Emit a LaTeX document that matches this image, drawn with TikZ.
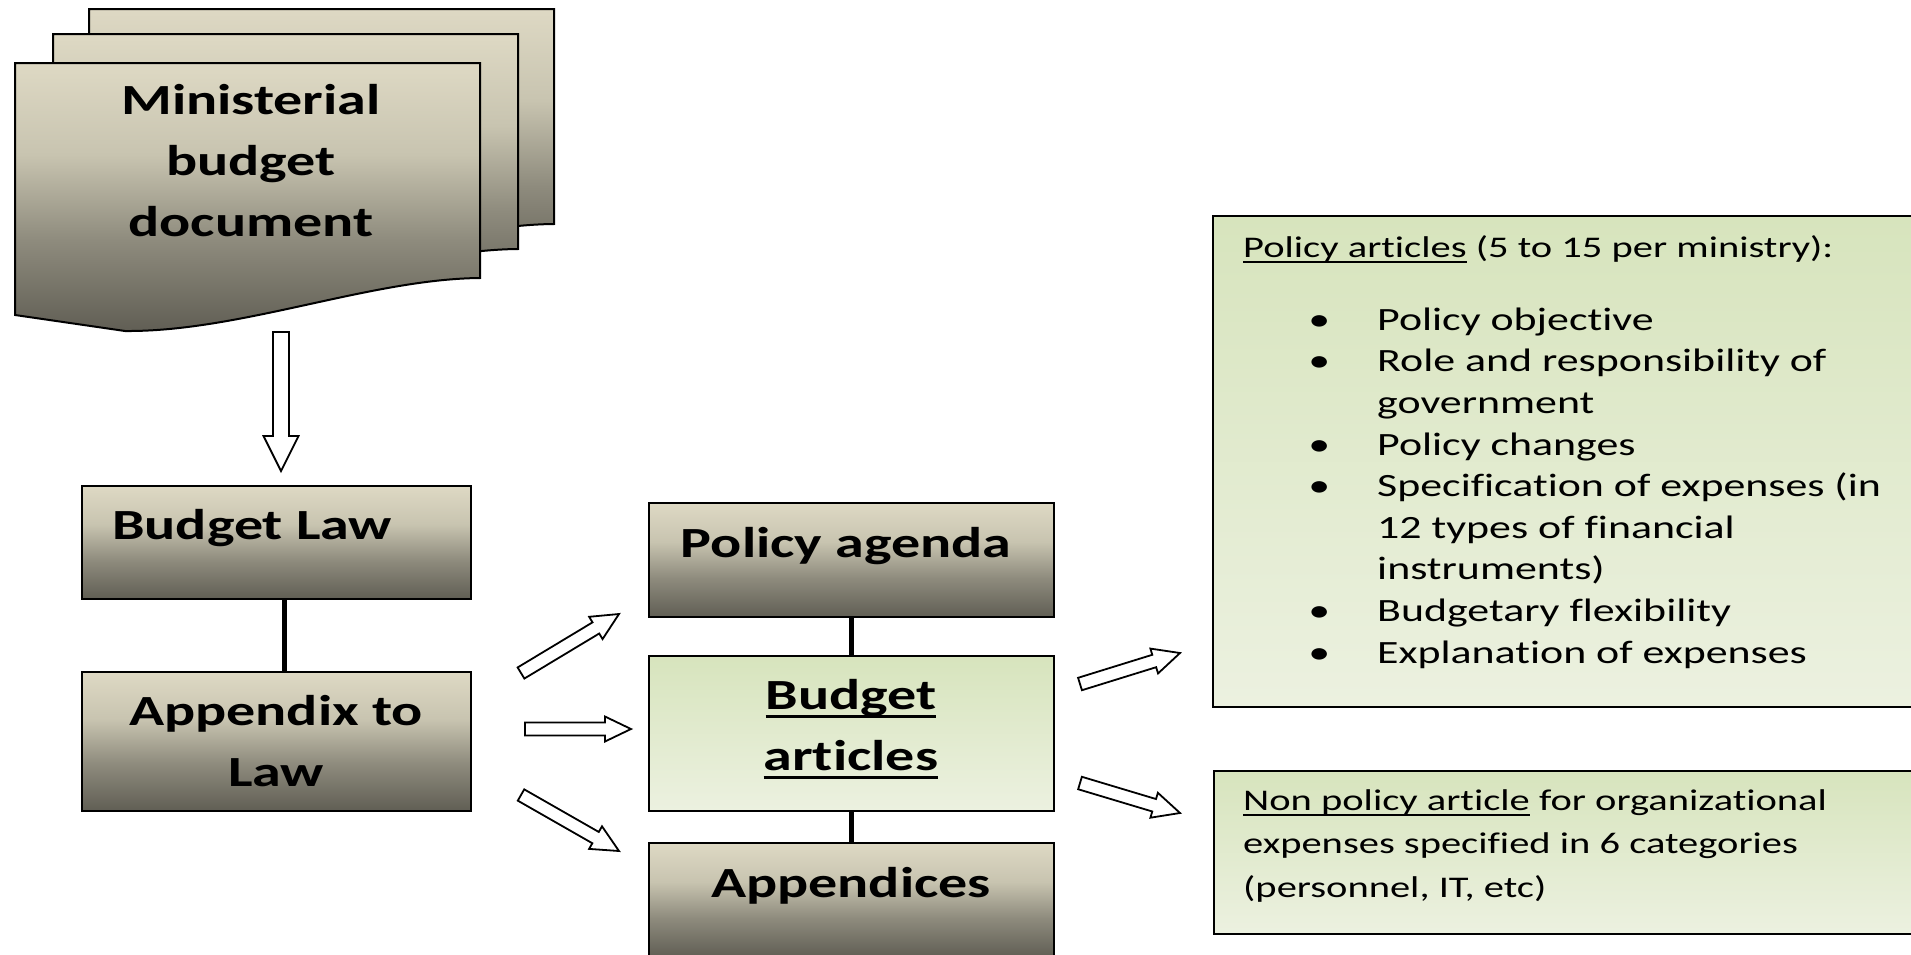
\documentclass[tikz,border=0pt]{standalone}
\usepackage{fontspec}
\setmainfont{Carlito}[FakeStretch=1.35, Ligatures=NoCommon]
\usetikzlibrary{calc}
\definecolor{tanL}{RGB}{222,217,196}
\definecolor{tanMa}{RGB}{200,196,176}
\definecolor{tanMb}{RGB}{142,139,125}
\definecolor{tanD}{RGB}{96,94,84}
\definecolor{grT}{RGB}{215,228,189}
\definecolor{grB}{RGB}{236,241,224}
\pgfdeclareverticalshading{tanshade}{100bp}{color(0bp)=(tanD); color(25bp)=(tanD); color(42bp)=(tanMb); color(58bp)=(tanMa); color(75bp)=(tanL); color(100bp)=(tanL)}
\newsavebox\ulbox
\newcommand\myul[1]{\sbox\ulbox{#1}\rlap{\rule[-0.2em]{\wd\ulbox}{0.07em}}\usebox\ulbox}
\newcommand\bu{\makebox[71pt][l]{\makebox[26pt]{\textbullet}}}
\newcommand\ind{\hspace*{71pt}}
\newcommand\blockarrow[5]{%
  \coordinate (ba-h) at ($(#2)!#5!(#1)$);
  \draw[blockarr] ($(#1)!#3!90:(#2)$) -- ($(ba-h)!#3!90:(#2)$) -- ($(ba-h)!#4!90:(#2)$) -- (#2)
    -- ($(ba-h)!#4!-90:(#2)$) -- ($(ba-h)!#3!-90:(#2)$) -- ($(#1)!#3!-90:(#2)$) -- cycle;}
\tikzset{
  boxtan/.style={draw=black, line width=2pt, shade, shading=tanshade, inner sep=0pt},
  boxgreen/.style={draw=black, line width=2pt, top color=grT, bottom color=grB, inner sep=0pt},
  pagesty/.style={draw=black, line width=2pt, shade, shading=tanshade, line join=miter},
  conn/.style={line width=5pt},
  blockarr/.style={draw=black, fill=white, line width=1.8pt, line join=miter},
  bigtxt/.style={font=\fontsize{43pt}{61pt}\selectfont\bfseries, inner sep=0pt, align=center},
  bodytxt/.style={font=\fontsize{30pt}{43.5pt}\selectfont, inner sep=0pt, align=left},
  bultxt/.style={font=\fontsize{32.5pt}{41.6pt}\selectfont, inner sep=0pt, align=left},
}
\begin{document}
\begin{tikzpicture}[x=1pt,y=-1pt]
\clip (0,0) rectangle (1911,954);
\fill[white] (0,0) rectangle (1911,954);
% stacked document pages
\def\pagepath{(15,63) -- (480,63) -- (480,278) .. controls (370,279) and (240,332) .. (125,331) -- (15,315) -- cycle}
\draw[pagesty, shift={(74,-54)}] \pagepath;
\draw[pagesty, shift={(38,-29)}] \pagepath;
\draw[pagesty] \pagepath;
\node[bigtxt, anchor=base] (mbd) at (251,236) {Ministerial\\budget\\document};
% boxes
\node[boxtan, minimum width=389pt, minimum height=113pt] (law) at (276.5,542.5) {};
\node[boxtan, minimum width=389pt, minimum height=139pt] (app) at (276.5,741.5) {};
\node[boxtan, minimum width=405pt, minimum height=114pt] (agenda) at (851.5,560) {};
\node[boxgreen, minimum width=405pt, minimum height=155pt] (art) at (851.5,733.5) {};
\node[boxtan, minimum width=405pt, minimum height=114pt] (appx) at (851.5,900) {};
\node[boxgreen, minimum width=717pt, minimum height=491pt] (pol) at (1571.5,461.5) {};
\node[boxgreen, minimum width=717pt, minimum height=163pt] (nonpol) at (1572,852.5) {};
% connectors
\draw[conn] ([xshift=7.5pt]law.south) -- ([xshift=7.5pt]app.north);
\draw[conn] (agenda.south) -- (art.north);
\draw[conn] (art.south) -- (appx.north);
% texts
\node[bigtxt, anchor=base west] (lawt) at (112,539) {Budget Law};
\node[bigtxt, anchor=base] (appt) at (276,786) {Appendix to\\Law};
\node[bigtxt, anchor=base] (agt) at (846,557) {Policy agenda};
\node[bigtxt, anchor=base] (artt) at (851,770) {\myul{Budget}\\\myul{articles}};
\node[bigtxt, anchor=base] (appxt) at (851,897) {Appendices};
\node[bodytxt, anchor=base west] (polt) at (1243,257) {\myul{Policy articles} (5 to 15 per ministry):};
\node[bultxt, anchor=base west] (poll) at (1306,663) {\bu Policy objective\\
\bu Role and responsibility of\\
\ind government\\
\bu Policy changes\\
\bu Specification of expenses (in\\
\ind 12 types of financial\\
\ind instruments)\\
\bu Budgetary flexibility\\
\bu Explanation of expenses};
\node[bodytxt, anchor=base west] (npt) at (1243,897) {\myul{Non policy article} for organizational\\expenses specified in 6 categories\\(personnel, IT, etc)};
% block arrows
\coordinate (a1s) at (281,332); \coordinate (a1e) at (281,471);
\coordinate (a2s) at (521,673); \coordinate (a2e) at (619,614);
\coordinate (a3s) at (525,729); \coordinate (a3e) at (631,729);
\coordinate (a4s) at (521,795); \coordinate (a4e) at (619,851);
\coordinate (a5s) at (1080,684); \coordinate (a5e) at (1180,653);
\coordinate (a6s) at (1080,783); \coordinate (a6e) at (1180,813);
\blockarrow{a1s}{a1e}{8pt}{17.5pt}{35pt}
\blockarrow{a2s}{a2e}{6.5pt}{13pt}{27pt}
\blockarrow{a3s}{a3e}{6.5pt}{12.5pt}{26pt}
\blockarrow{a4s}{a4e}{6.5pt}{13pt}{27pt}
\blockarrow{a5s}{a5e}{6.5pt}{13pt}{27pt}
\blockarrow{a6s}{a6e}{6.5pt}{13pt}{27pt}
\end{tikzpicture}
\end{document}
